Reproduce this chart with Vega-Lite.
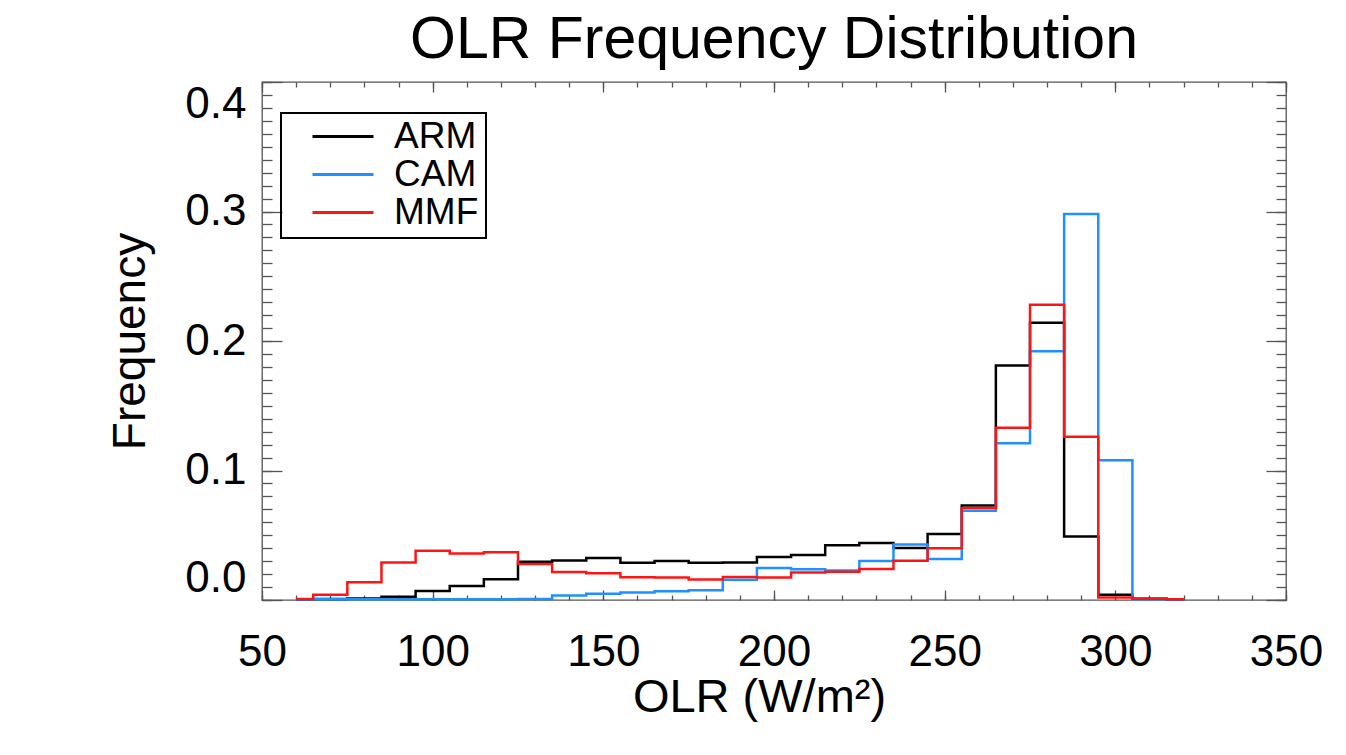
{
  "$schema": "https://vega.github.io/schema/vega-lite/v6.json",
  "autosize": "none",
  "width": 1024,
  "height": 518,
  "padding": {"left": 262, "top": 82, "right": 60, "bottom": 155},
  "background": "white",
  "config": {
    "view": {"stroke": "#555555", "strokeWidth": 1.3},
    "font": "Liberation Sans",
    "axis": {"grid": false, "domain": false, "tickColor": "#555555", "tickWidth": 1.3, "labelColor": "black", "titleColor": "black", "labelFont": "Liberation Sans", "titleFont": "Liberation Sans", "titleFontWeight": "normal"}
  },
  "title": {"text": "OLR Frequency Distribution", "fontSize": 59, "font": "Liberation Sans", "fontWeight": "normal", "color": "black", "anchor": "middle", "frame": "group", "offset": 11},
  "data": {"values": [
    {"olr":60,"model":"ARM","freq":0.0003},{"olr":70,"model":"ARM","freq":0.0008},{"olr":80,"model":"ARM","freq":0.0012},{"olr":90,"model":"ARM","freq":0.0026},{"olr":100,"model":"ARM","freq":0.007},{"olr":110,"model":"ARM","freq":0.0108},{"olr":120,"model":"ARM","freq":0.016},{"olr":130,"model":"ARM","freq":0.0296},{"olr":140,"model":"ARM","freq":0.0305},{"olr":150,"model":"ARM","freq":0.0325},{"olr":160,"model":"ARM","freq":0.0287},{"olr":170,"model":"ARM","freq":0.0302},{"olr":180,"model":"ARM","freq":0.0288},{"olr":190,"model":"ARM","freq":0.0289},{"olr":200,"model":"ARM","freq":0.0333},{"olr":210,"model":"ARM","freq":0.0348},{"olr":220,"model":"ARM","freq":0.0423},{"olr":230,"model":"ARM","freq":0.0441},{"olr":240,"model":"ARM","freq":0.0402},{"olr":250,"model":"ARM","freq":0.051},{"olr":260,"model":"ARM","freq":0.073},{"olr":270,"model":"ARM","freq":0.181},{"olr":280,"model":"ARM","freq":0.214},{"olr":290,"model":"ARM","freq":0.049},{"olr":300,"model":"ARM","freq":0.004},{"olr":310,"model":"ARM","freq":0.001},{"olr":320,"model":"ARM","freq":0.0003},
    {"olr":60,"model":"CAM","freq":0.0003},{"olr":70,"model":"CAM","freq":0.0005},{"olr":80,"model":"CAM","freq":0.0005},{"olr":90,"model":"CAM","freq":0.0005},{"olr":100,"model":"CAM","freq":0.0005},{"olr":110,"model":"CAM","freq":0.0005},{"olr":120,"model":"CAM","freq":0.0006},{"olr":130,"model":"CAM","freq":0.0008},{"olr":140,"model":"CAM","freq":0.0035},{"olr":150,"model":"CAM","freq":0.0048},{"olr":160,"model":"CAM","freq":0.0058},{"olr":170,"model":"CAM","freq":0.0067},{"olr":180,"model":"CAM","freq":0.0075},{"olr":190,"model":"CAM","freq":0.0157},{"olr":200,"model":"CAM","freq":0.0248},{"olr":210,"model":"CAM","freq":0.0238},{"olr":220,"model":"CAM","freq":0.0228},{"olr":230,"model":"CAM","freq":0.0302},{"olr":240,"model":"CAM","freq":0.0428},{"olr":250,"model":"CAM","freq":0.0317},{"olr":260,"model":"CAM","freq":0.069},{"olr":270,"model":"CAM","freq":0.121},{"olr":280,"model":"CAM","freq":0.192},{"olr":290,"model":"CAM","freq":0.298},{"olr":300,"model":"CAM","freq":0.108},{"olr":310,"model":"CAM","freq":0.0005},{"olr":320,"model":"CAM","freq":0.0003},
    {"olr":60,"model":"MMF","freq":0.0008},{"olr":70,"model":"MMF","freq":0.004},{"olr":80,"model":"MMF","freq":0.0137},{"olr":90,"model":"MMF","freq":0.029},{"olr":100,"model":"MMF","freq":0.038},{"olr":110,"model":"MMF","freq":0.036},{"olr":120,"model":"MMF","freq":0.0368},{"olr":130,"model":"MMF","freq":0.0278},{"olr":140,"model":"MMF","freq":0.0217},{"olr":150,"model":"MMF","freq":0.0206},{"olr":160,"model":"MMF","freq":0.0176},{"olr":170,"model":"MMF","freq":0.0173},{"olr":180,"model":"MMF","freq":0.0158},{"olr":190,"model":"MMF","freq":0.0178},{"olr":200,"model":"MMF","freq":0.0174},{"olr":210,"model":"MMF","freq":0.0212},{"olr":220,"model":"MMF","freq":0.0219},{"olr":230,"model":"MMF","freq":0.024},{"olr":240,"model":"MMF","freq":0.0304},{"olr":250,"model":"MMF","freq":0.04},{"olr":260,"model":"MMF","freq":0.071},{"olr":270,"model":"MMF","freq":0.133},{"olr":280,"model":"MMF","freq":0.228},{"olr":290,"model":"MMF","freq":0.126},{"olr":300,"model":"MMF","freq":0.002},{"olr":310,"model":"MMF","freq":0.001},{"olr":320,"model":"MMF","freq":0.0005}
  ]},
  "resolve": {"axis": {"x": "independent", "y": "independent"}},
  "layer": [
    {
      "mark": {"type": "line", "interpolate": "step", "strokeWidth": 2.5},
      "encoding": {
        "x": {"field": "olr", "type": "quantitative", "scale": {"domain": [50, 350], "nice": false, "zero": false},
          "axis": {"orient": "bottom", "values": [50,100,150,200,250,300,350], "tickSize": -10, "labelFontSize": 44, "labelPadding": 40, "labelFlush": false, "labelOverlap": false, "title": "OLR (W/m²)", "titleFontSize": 47, "titleX": 497, "titleY": 74}},
        "y": {"field": "freq", "type": "quantitative", "scale": {"domain": [0, 0.4], "nice": false, "zero": false},
          "axis": {"orient": "left", "values": [0,0.1,0.2,0.3,0.4], "format": ".1f", "tickSize": -20, "labelFontSize": 44, "labelPadding": 36, "labelFlush": true, "labelOverlap": false, "title": "Frequency", "titleFontSize": 46, "titlePadding": 30}},
        "color": {"field": "model", "type": "nominal", "scale": {"domain": ["ARM", "CAM", "MMF"], "range": ["#000000", "#1e90ff", "#ff1414"]},
          "legend": {"orient": "none", "legendX": 19, "legendY": 31, "title": null, "direction": "vertical", "symbolType": "stroke", "symbolSize": 3721, "symbolStrokeWidth": 3, "labelFontSize": 37, "labelFont": "Liberation Sans", "labelColor": "black", "labelOffset": 19, "symbolOffset": 23, "clipHeight": 33, "rowPadding": 0, "padding": 7, "strokeColor": "black",
            "encode": {"legend": {"update": {"strokeWidth": {"value": 2}}}}}}
      }
    },
    {
      "mark": {"type": "point", "opacity": 0},
      "encoding": {
        "x": {"field": "olr", "type": "quantitative", "scale": {"domain": [50, 350], "nice": false, "zero": false},
          "axis": {"orient": "bottom", "values": [50,60,70,80,90,100,110,120,130,140,150,160,170,180,190,200,210,220,230,240,250,260,270,280,290,300,310,320,330,340,350], "tickSize": -5, "labels": false, "title": null}},
        "y": {"field": "freq", "type": "quantitative", "scale": {"domain": [0, 0.4], "nice": false, "zero": false},
          "axis": {"orient": "left", "values": [0,0.01,0.02,0.03,0.04,0.05,0.06,0.07,0.08,0.09,0.1,0.11,0.12,0.13,0.14,0.15,0.16,0.17,0.18,0.19,0.2,0.21,0.22,0.23,0.24,0.25,0.26,0.27,0.28,0.29,0.3,0.31,0.32,0.33,0.34,0.35,0.36,0.37,0.38,0.39,0.4], "tickSize": -10, "labels": false, "title": null}}
      }
    },
    {
      "mark": {"type": "point", "opacity": 0},
      "encoding": {
        "x": {"field": "olr", "type": "quantitative", "scale": {"domain": [50, 350], "nice": false, "zero": false},
          "axis": {"orient": "top", "values": [50,100,150,200,250,300,350], "tickSize": -10, "labels": false, "title": null}},
        "y": {"field": "freq", "type": "quantitative", "scale": {"domain": [0, 0.4], "nice": false, "zero": false},
          "axis": {"orient": "right", "values": [0,0.1,0.2,0.3,0.4], "tickSize": -20, "labels": false, "title": null}}
      }
    },
    {
      "mark": {"type": "point", "opacity": 0},
      "encoding": {
        "x": {"field": "olr", "type": "quantitative", "scale": {"domain": [50, 350], "nice": false, "zero": false},
          "axis": {"orient": "top", "values": [50,60,70,80,90,100,110,120,130,140,150,160,170,180,190,200,210,220,230,240,250,260,270,280,290,300,310,320,330,340,350], "tickSize": -5, "labels": false, "title": null}},
        "y": {"field": "freq", "type": "quantitative", "scale": {"domain": [0, 0.4], "nice": false, "zero": false},
          "axis": {"orient": "right", "values": [0,0.01,0.02,0.03,0.04,0.05,0.06,0.07,0.08,0.09,0.1,0.11,0.12,0.13,0.14,0.15,0.16,0.17,0.18,0.19,0.2,0.21,0.22,0.23,0.24,0.25,0.26,0.27,0.28,0.29,0.3,0.31,0.32,0.33,0.34,0.35,0.36,0.37,0.38,0.39,0.4], "tickSize": -10, "labels": false, "title": null}}
      }
    }
  ]
}
